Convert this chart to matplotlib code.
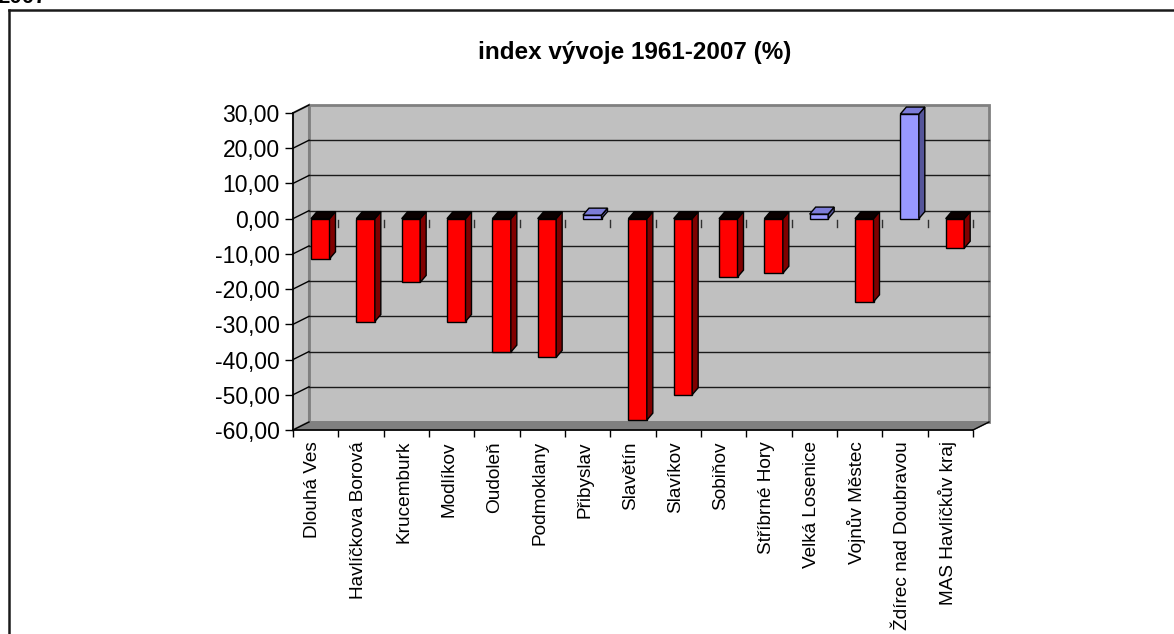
import numpy as np
import matplotlib
matplotlib.use("Agg")
import matplotlib.pyplot as plt
from matplotlib.patches import Polygon
from matplotlib.ticker import FuncFormatter

plt.rcParams['font.family'] = ['Liberation Sans', 'DejaVu Sans']

# data
obce = ["Dlouhá Ves", "Havlíčkova Borová", "Krucemburk", "Modlíkov", "Oudoleň",
        "Podmoklany", "Přibyslav", "Slavětín", "Slavíkov", "Sobiňov",
        "Stříbrné Hory", "Velká Losenice", "Vojnův Městec",
        "Ždírec nad Doubravou", "MAS Havlíčkův kraj"]
index_vyvoje = [-11.4, -29.2, -18.1, -29.2, -37.9, -39.4, 1.0, -57.2, -50.0,
                -16.6, -15.5, 1.3, -23.6, 29.7, -8.4]
y_ticks = [-60, -50, -40, -30, -20, -10, 0, 10, 20, 30]

W, H = 1174, 634
fig = plt.figure(figsize=(W / 100, H / 100), dpi=100)
fig.patch.set_facecolor('white')

# front plane of the 3D box in pixels
x_left, x_right, y_top, y_bot = 293, 973, 113, 430
ax = fig.add_axes([x_left / W, 1 - y_bot / H, (x_right - x_left) / W, (y_bot - y_top) / H])
n = len(obce)
ymin, ymax = -60, 30
ax.set_xlim(0, n)
ax.set_ylim(ymin, ymax)
ax.patch.set_alpha(0)

px_x = n / (x_right - x_left)          # data units per pixel
px_y = (ymax - ymin) / (y_bot - y_top)

# depth of walls / bars
ddx, ddy = 16 * px_x, 8 * px_y
bdx, bdy = 6 * px_x, 7 * px_y
b_off, b_w = 18 * px_x, 18.5 * px_x

def poly(pts, fc, ec='black', lw=1.0, z=1):
    p = Polygon(pts, closed=True, facecolor=fc, edgecolor=ec, linewidth=lw,
                zorder=z, clip_on=False, joinstyle='miter')
    ax.add_patch(p)

# back wall
poly([(ddx, ymin + ddy), (n + ddx, ymin + ddy), (n + ddx, ymax + ddy), (ddx, ymax + ddy)],
     '#C0C0C0', ec='#808080', lw=2, z=0.5)
# side wall
poly([(0, ymin), (ddx, ymin + ddy), (ddx, ymax + ddy), (0, ymax)], '#C0C0C0', ec='#808080', lw=1.5, z=0.6)
# floor
poly([(0, ymin), (n, ymin), (n + ddx, ymin + ddy), (ddx, ymin + ddy)], '#808080', ec='#808080', lw=1, z=0.7)
ax.plot([n, n + ddx], [ymin, ymin + ddy], color='black', lw=1, clip_on=False, zorder=0.8)

# gridlines on the back wall and the side wall
for t in y_ticks[1:-1]:
    ax.plot([ddx, n + ddx], [t + ddy, t + ddy], color='#1a1a1a', lw=1, clip_on=False, zorder=0.9)
for t in y_ticks:
    ax.plot([0, ddx], [t, t + ddy], color='black', lw=1, clip_on=False, zorder=0.9)

# ticks hanging from the zero level
for i in range(1, n + 1):
    ax.plot([i, i], [-0.4, -2.3], color='#303030', lw=1, clip_on=False, zorder=1)

# bars
for i, v in enumerate(index_vyvoje):
    x0 = i + b_off
    x1 = x0 + b_w
    if v < 0:
        front, side, top = '#FF0000', '#800000', '#0a0000'
    else:
        front, side, top = '#9999FF', '#55559A', '#7C7CD8'
    lo, hi = min(v, 0), max(v, 0)
    poly([(x0, lo), (x1, lo), (x1, hi), (x0, hi)], front, z=3)
    poly([(x1, lo), (x1 + bdx, lo + bdy), (x1 + bdx, hi + bdy), (x1, hi)], side, z=3)
    poly([(x0, hi), (x1, hi), (x1 + bdx, hi + bdy), (x0 + bdx, hi + bdy)], top, z=3)

# axes
for s in ['top', 'right']:
    ax.spines[s].set_visible(False)
ax.spines['left'].set_linewidth(1.2)
ax.spines['bottom'].set_linewidth(1.2)
ax.spines['left'].set_zorder(2)
ax.spines['bottom'].set_zorder(2)

ax.set_yticks(y_ticks)
ax.yaxis.set_major_formatter(FuncFormatter(lambda v, p: f"{v:.2f}".replace('.', ',')))
ax.tick_params(axis='y', length=6, width=1, pad=3.5, labelsize=16.5, colors='black')

ax.set_xticks(np.arange(n) + 0.44)
ax.set_xticklabels(obce, rotation=90, va='top', ha='center')
ax.set_xticks(np.arange(n + 1), minor=True)
ax.tick_params(axis='x', which='major', length=0, pad=8, labelsize=13.7)
ax.tick_params(axis='x', which='minor', length=5, width=1)

fig.text(0.541, 1 - 52 / H, "index vývoje 1961-2007 (%)", ha='center', va='center',
         fontsize=17.5, fontweight='bold')
fig.text(47 / W, 1 - 3 / H, "2007", ha='right', va='baseline', fontsize=16, fontweight='bold')

# frame
fig.add_artist(plt.Line2D([9 / W, 1], [1 - 10 / H, 1 - 10 / H], color='#1a1a1a', lw=1.8,
                          transform=fig.transFigure))
fig.add_artist(plt.Line2D([9 / W, 9 / W], [0, 1 - 10 / H], color='#1a1a1a', lw=1.8,
                          transform=fig.transFigure))

fig.savefig("out.png", dpi=100)
